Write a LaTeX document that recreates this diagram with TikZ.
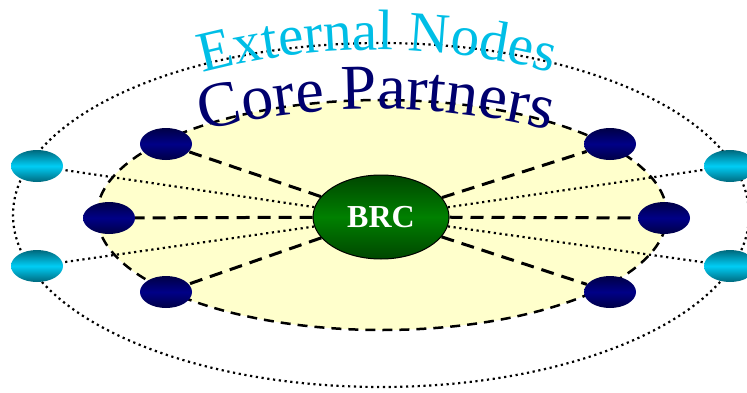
\documentclass[tikz,border=0pt]{standalone}
\usepackage{fontspec}
\setmainfont{Liberation Serif}
\usetikzlibrary{shapes.geometric, decorations.text}
\pgfdeclarelayer{back}
\pgfdeclarelayer{mid}
\pgfsetlayers{back,mid,main}

\begin{document}
\begin{tikzpicture}[x=1pt, y=1pt,
    core/.style={ellipse, minimum width=52pt, minimum height=32pt, inner sep=0pt, top color=coredark, bottom color=coredark, middle color=coremid},
    ext/.style={ellipse, minimum width=52pt, minimum height=32pt, inner sep=0pt, top color=extdark, bottom color=extdark, middle color=extmid},
    hub/.style={ellipse, draw=black, line width=1pt, minimum width=136pt, minimum height=84pt, inner sep=0pt, top color=hubdark, bottom color=hubdark, middle color=hubmid, text=white, font=\bfseries\fontsize{32}{32}\selectfont},
    corelink/.style={line width=3pt, dash pattern=on 13pt off 8pt},
    extlink/.style={line width=2.2pt, dash pattern=on 2.2pt off 3.6pt}
]

    % Define colors
    \definecolor{coredark}{RGB}{0,0,70}
    \definecolor{coremid}{RGB}{0,0,135}
    \definecolor{extdark}{RGB}{0,105,125}
    \definecolor{extmid}{RGB}{0,205,245}
    \definecolor{hubdark}{RGB}{0,70,0}
    \definecolor{hubmid}{RGB}{0,128,0}
    \definecolor{zonefill}{RGB}{255,255,204}
    \definecolor{titlecyan}{RGB}{0,190,230}
    \definecolor{titlenavy}{RGB}{0,0,110}

    \useasboundingbox (0,0) rectangle (747,392);
    \clip (0,0) rectangle (747,392);

    % Hub
    \node[hub] (brc) at (381,175) {BRC};

    % Core partners
    \foreach \n/\px/\py in {nw/166/248, w/109/174, sw/166/100, ne/610/248, e/664/174, se/610/100} {
        \node[core] (cp\n) at (\px,\py) {};
    }

    % External nodes
    \foreach \n/\px/\py in {nw/37/226, sw/37/126, ne/730/226, se/730/126} {
        \node[ext] (ex\n) at (\px,\py) {};
    }

    % Links
    \begin{pgfonlayer}{mid}
        \foreach \n in {nw,w,sw,ne,e,se}
            \draw[corelink] (brc) -- (cp\n);
        \foreach \n in {nw,sw,ne,se}
            \draw[extlink] (brc) -- (ex\n);
    \end{pgfonlayer}

    % Zones
    \begin{pgfonlayer}{back}
        \draw[extlink] (381,177) ellipse [x radius=368, y radius=172];
        \draw[corelink, line width=2.5pt, dash pattern=on 10pt off 7pt, fill=zonefill] (382,177) ellipse [x radius=285, y radius=115];
    \end{pgfonlayer}

    % Titles along arcs
    \path[decorate, decoration={text along path, text align=center,
        text={|\fontsize{57}{57}\selectfont\color{titlecyan}|External Nodes}}]
        (377,-345) ++(120:687) arc[start angle=120, end angle=60, radius=687];
    \path[decorate, decoration={text along path, text align=center,
        text={|\fontsize{64}{64}\selectfont\color{titlenavy}|Core Partners}}]
        (376,-424) ++(115:707) arc[start angle=115, end angle=65, radius=707];

\end{tikzpicture}
\end{document}
